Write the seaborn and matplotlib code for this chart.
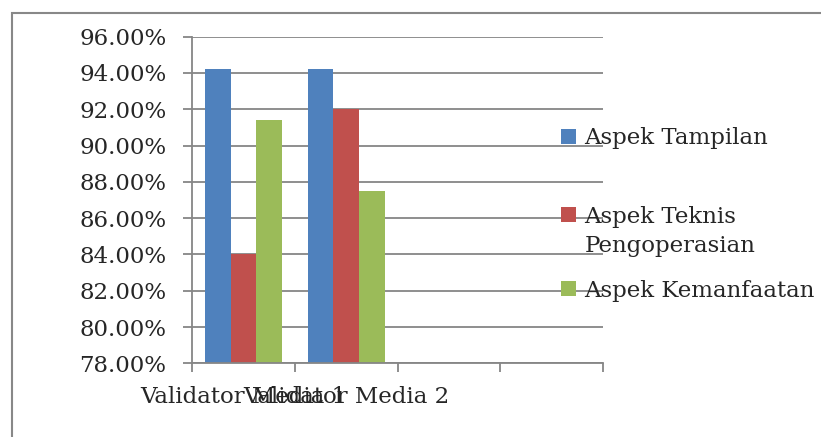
import matplotlib
matplotlib.use("Agg")
import matplotlib.pyplot as plt
import matplotlib.ticker as mticker
from matplotlib.patches import Rectangle
from matplotlib.legend_handler import HandlerPatch
import seaborn as sns
import pandas as pd

# ---- data ----
categories = ["Validator Media 1", "Validator Media 2"]
empty_slots = ["slot3", "slot4"]  # empty category slots on the x axis
series_names = ["Aspek Tampilan", "Aspek Teknis\nPengoperasian", "Aspek Kemanfaatan"]
tampilan = [94.2, 94.2]
teknis = [84.0, 92.0]
kemanfaatan = [91.4, 87.5]
y_ticks = [78, 80, 82, 84, 86, 88, 90, 92, 94, 96]

colors = ["#4F81BD", "#C0504D", "#9BBB59"]
FS = 16.5

rows = []
for s, vals in zip(series_names, [tampilan, teknis, kemanfaatan]):
    for c, v in zip(categories, vals):
        rows.append({"validator": c, "nilai": v, "aspek": s})
df = pd.DataFrame(rows)

sns.set_style("white")
plt.rcParams["font.family"] = ["DejaVu Serif"]

fig = plt.figure(figsize=(8.21, 4.37), dpi=100)
ax = fig.add_axes([192 / 821, 1 - 363.3 / 437, (603 - 192) / 821, (363.3 - 36.7) / 437])

sns.barplot(data=df, x="validator", y="nilai", hue="aspek",
            order=categories + empty_slots, hue_order=series_names,
            palette=colors, width=0.75, saturation=1, ax=ax, legend=True,
            linewidth=0)

ax.set_ylim(78, 96)
ax.set_xlim(-0.5, 3.5)
ax.set_yticks(y_ticks)
ax.yaxis.set_major_formatter(mticker.PercentFormatter(xmax=100, decimals=2))
ax.grid(axis="y", color="#868686", linewidth=1.3)
ax.set_axisbelow(True)

# x ticks at category boundaries, labels at centres
ax.set_xticks([-0.5, 0.5, 1.5, 2.5, 3.5])
ax.set_xticklabels([""] * 5)
ax.set_xticks([0, 1], minor=True)
ax.set_xticklabels(categories, minor=True, fontsize=FS)
ax.tick_params(axis="x", which="major", length=6.5, width=1.3, color="#868686", direction="out", bottom=True)
ax.tick_params(axis="x", which="minor", length=0, pad=16)
ax.tick_params(axis="y", length=6.5, width=1.3, color="#868686", labelsize=FS, pad=12, left=True)

ax.set_xlabel("")
ax.set_ylabel("")
for side in ["top", "right"]:
    ax.spines[side].set_visible(False)
for side in ["left", "bottom"]:
    ax.spines[side].set_color("#868686")
    ax.spines[side].set_linewidth(1.3)

# legend: square markers; multi-line entry keeps its marker on the first line
handles, labels = ax.get_legend_handles_labels()
multi_handle = handles[labels.index(series_names[1])]
sq = 0.66 * FS


def handle_color(h):
    if hasattr(h, "patches") and len(h.patches):
        return h.patches[0].get_facecolor()
    return h.get_facecolor()


def square(legend, orig_handle, xdescent, ydescent, width, height, fontsize):
    y0 = -ydescent + (height - sq) / 2
    if orig_handle is multi_handle:
        y0 += 0.75 * fontsize
    return Rectangle((-xdescent, y0), sq, sq)


def set_color(legend_handle, orig_handle):
    legend_handle.set_facecolor(handle_color(orig_handle))
    legend_handle.set_edgecolor("none")


handler = HandlerPatch(patch_func=square, update_func=set_color)
ax.get_legend().remove()
leg = ax.legend(handles, labels, loc="upper left",
                bbox_to_anchor=(528 / 821, 1 - 94 / 437),
                bbox_transform=fig.transFigure, frameon=False, fontsize=FS,
                handlelength=0.66, handleheight=0.66, handletextpad=0.35,
                labelspacing=1.0, borderaxespad=0, borderpad=0,
                handler_map={type(handles[0]): handler})
for t in leg.get_texts():
    t.set_linespacing(1.44)
# extra breathing room around the first entry (legend entries are spread unevenly)
try:
    entries = leg._legend_handle_box.get_children()[0].get_children()
    entries[0].pad = 24
except Exception:
    pass

# chart border (cropped)
fig.add_artist(Rectangle((12 / 821, -0.5), 2.0, 1.5 - 13 / 437,
                         transform=fig.transFigure, fill=False,
                         edgecolor="#888888", linewidth=1.5))

fig.savefig("out.png", dpi=100)
